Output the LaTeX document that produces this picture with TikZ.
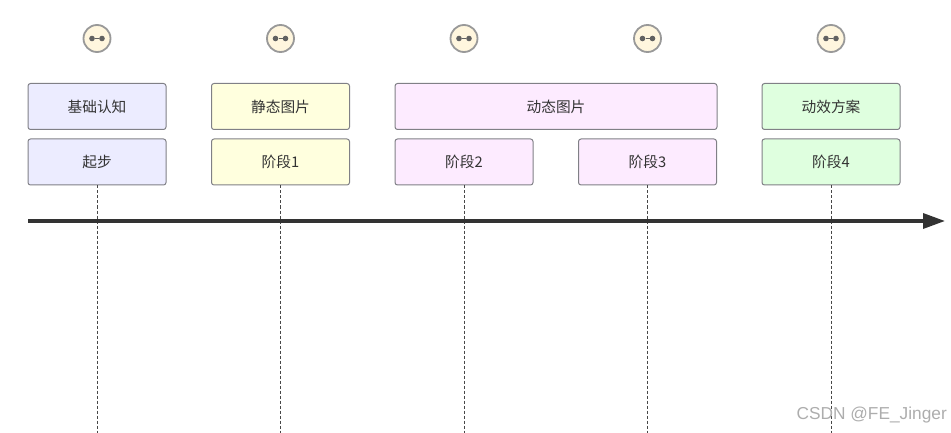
\documentclass[tikz,border=0pt]{standalone}
\usepackage{fontspec}
\setmainfont{Noto Sans CJK SC}
\newfontfamily\wmfont{Liberation Sans}
\usetikzlibrary{arrows.meta}
\definecolor{cA}{HTML}{ECECFF}
\definecolor{cB}{HTML}{FFFFDE}
\definecolor{cC}{HTML}{FDEBFF}
\definecolor{cD}{HTML}{DFFFDF}
\definecolor{ink}{HTML}{333333}
\definecolor{edge}{HTML}{808086}
\definecolor{iconfill}{HTML}{FFF6DE}
\newcommand{\lowr}[1]{\raisebox{-1.2pt}{#1}}
\tikzset{
  x=1pt,y=-1pt,
  box/.style={draw=edge,line width=1pt,rounded corners=2.5pt,minimum height=46pt,minimum width=138pt,inner sep=0pt,text=ink,font=\fontsize{14.7}{16}\selectfont,anchor=center},
  wide/.style={box,minimum width=322pt},
  icon/.style={circle,draw=black!40,line width=1.8pt,fill=iconfill,minimum size=27pt,inner sep=0pt},
  dot/.style={circle,fill=black!62,minimum size=5.6pt,inner sep=0pt},
  link/.style={draw=black!62,line width=1.1pt},
  guide/.style={draw=black!72,line width=0.85pt,dash pattern=on 3pt off 2pt},
  axis/.style={draw=ink,line width=3.4pt,-{Triangle[length=22pt,width=15pt,fill=ink]}}
}
\begin{document}
\begin{tikzpicture}
\useasboundingbox (0,0) rectangle (951,433);
\node[box,fill=cA] (s0) at (97,162) {\lowr{起步}};
\node[box,fill=cB] (s1) at (280.5,162) {\lowr{阶段1}};
\node[box,fill=cC] (s2) at (464,162) {\lowr{阶段2}};
\node[box,fill=cC] (s3) at (647.5,162) {\lowr{阶段3}};
\node[box,fill=cD] (s4) at (831,162) {\lowr{阶段4}};
\node[box,fill=cA] (t0) at (97,106.5) {\lowr{基础认知}};
\node[box,fill=cB] (t1) at (280.5,106.5) {\lowr{静态图片}};
\node[wide,fill=cC] (t2) at (556,106.5) {\lowr{动态图片}};
\node[box,fill=cD] (t3) at (831,106.5) {\lowr{动效方案}};
\foreach \n/\x in {0/97,1/280.5,2/464,3/647.5,4/831}{
  \coordinate (e\n) at (\x,433);
  \draw[guide] (s\n.south) -- (e\n);
  \node[icon] (i\n) at (\x,38.5) {};
  \node[dot] (a\n) at (\x-5,38.5) {};
  \node[dot] (b\n) at (\x+5,38.5) {};
  \draw[link] (a\n) -- (b\n);
}
\coordinate (axS) at (28,221);
\coordinate (axE) at (945,221);
\draw[axis] (axS) -- (axE);
\node[anchor=east,inner sep=0pt,text=black!32,font=\wmfont\fontsize{17.3}{18}\selectfont] (wm) at (947,415.5) {CSDN @FE\_Jinger};
\end{tikzpicture}
\end{document}
